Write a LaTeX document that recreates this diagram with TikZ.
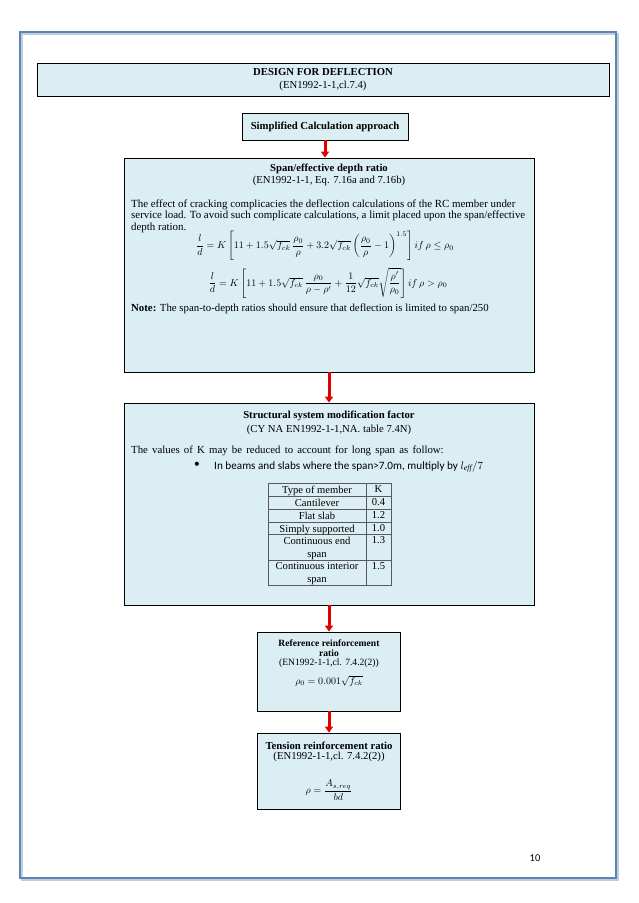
\documentclass[tikz,border=0pt]{standalone}
\usepackage{amsmath,amssymb}
\usepackage{fontspec}
\setmainfont{Liberation Serif}
\newfontfamily\calibri{Carlito}
\usepackage{tikz}
\usetikzlibrary{arrows.meta,positioning,calc}
\definecolor{boxblue}{HTML}{DAEEF3}
\definecolor{arrowred}{HTML}{E00000}
\definecolor{pageblue}{HTML}{5B84B8}
\definecolor{tablegray}{HTML}{5A5A5A}
\tikzset{
  flowbox/.style={draw=black, line width=0.8pt, fill=boxblue, inner sep=0pt},
  flowarrow/.style={-{Triangle[length=6pt,width=8pt]}, draw=arrowred, line width=3pt},
  headtext/.style={font=\fontsize{10.7}{11.5}\selectfont, inner sep=0pt, align=center},
  smallhead/.style={font=\fontsize{9.6}{9.6}\selectfont, inner sep=0pt, align=center},
  bodytext/.style={font=\fontsize{10.8}{11}\selectfont, inner sep=0pt, align=left},
  mathtext/.style={font=\fontsize{9.8}{11}\selectfont, inner sep=0pt},
  celltext/.style={font=\fontsize{10.6}{13}\selectfont, inner sep=0pt, align=center, anchor=north},
}

\begin{document}
\begin{tikzpicture}[x=1pt, y=-1pt]
\useasboundingbox (0,0) rectangle (638,903);
% page frame
\draw[pageblue!60!gray!40, line width=1.5pt] (22,34) rectangle (618,880);
\draw[pageblue, line width=2pt] (20,32) rectangle (616,878);

% boxes
\node[flowbox, minimum width=572pt, minimum height=33pt, headtext] (title) at (323,79.5)
  {\textbf{DESIGN FOR DEFLECTION}\\[1pt](EN1992-1-1,cl.7.4)};
\node[flowbox, minimum width=166pt, minimum height=27pt, headtext] (simp) at (325,126.5)
  {\textbf{Simplified Calculation approach}};
\node[flowbox, minimum width=410pt, minimum height=214pt] (span) at (329,265) {};
\node[flowbox, minimum width=410pt, minimum height=202pt] (struct) at (329,504) {};
\node[flowbox, minimum width=143pt, minimum height=79pt] (refr) at (329,671.5) {};
\node[flowbox, minimum width=143pt, minimum height=76pt] (tens) at (329,771) {};

% span/effective depth ratio
\node[headtext, anchor=base] (spanhead) at (329,171) {\textbf{Span/effective depth ratio}};
\node[headtext, anchor=base] (spansub) at (329,183) {(EN1992-1-1, Eq. 7.16a and 7.16b)};
\node[bodytext, anchor=north west, font=\fontsize{10.9}{11.4}\selectfont] (spantext) at (131,199.6) {The effect of cracking complicacies the deflection calculations of the RC member under\\
service load. To avoid such complicate calculations, a limit placed upon the span/effective\\
depth ration.};
\node[mathtext] (eqone) at (325,246)
  {$\dfrac{l}{d} = K\left[11 + 1.5\sqrt{f_{ck}}\,\dfrac{\rho_0}{\rho} + 3.2\sqrt{f_{ck}}\left(\dfrac{\rho_0}{\rho} - 1\right)^{1.5}\right] if\,\rho \le \rho_0$};
\node[mathtext] (eqtwo) at (328,283)
  {$\dfrac{l}{d} = K\left[11 + 1.5\sqrt{f_{ck}}\,\dfrac{\rho_0}{\rho - \rho'} + \dfrac{1}{12}\sqrt{f_{ck}}\sqrt{\dfrac{\rho'}{\rho_0}}\right] if\,\rho > \rho_0$};
\node[bodytext, anchor=base west] (note) at (131,311) {\textbf{Note:} The span-to-depth ratios should ensure that deflection is limited to span/250};

% structural system modification factor
\node[headtext, anchor=base] (structhead) at (329,418) {\textbf{Structural system modification factor}};
\node[headtext, anchor=base] (structsub) at (329,432) {(CY NA EN1992-1-1,NA. table 7.4N)};
\node[bodytext, anchor=base west] (structtext) at (131,453) {\spaceskip=4.2pt plus 1pt\relax The values of K may be reduced to account for long span as follow:};
\node[inner sep=0pt, font=\calibri\fontsize{11.5}{12}\selectfont] (bullet) at (197,465) {•};
\node[bodytext, anchor=base west, font=\calibri\fontsize{11.2}{12}\selectfont] (bullettext) at (214,469)
  {In beams and slabs where the span>7.0m, multiply by $l_{\mathit{eff}}/7$};

% table of K values
\draw[tablegray, line width=0.6pt] (268,483) rectangle (391,585);
\draw[tablegray, line width=0.6pt] (366,483) -- (366,585);
\foreach \yy in {496,509,522,534,560}
  \draw[tablegray, line width=0.6pt] (268,\yy) -- (391,\yy);
\foreach \ytop/\member/\kval [count=\i] in {
    483/{Type of member}/K,
    496/Cantilever/0.4,
    509/Flat slab/1.2,
    522/Simply supported/1.0,
    534/{Continuous end\\span}/1.3,
    560/{Continuous interior\\span}/1.5} {
  \node[celltext] (member\i) at (317,\ytop+2.6) {\member};
  \node[celltext] (kval\i) at (378.5,\ytop+2.6) {\kval};
}

% reference reinforcement ratio
\node[smallhead, anchor=north] (refrhead) at (329,639.5) {\textbf{Reference reinforcement}\\\textbf{ratio}\\(EN1992-1-1,cl. 7.4.2(2))};
\node[mathtext] (refreq) at (329,681) {$\rho_0 = 0.001\sqrt{f_{ck}}$};

% tension reinforcement ratio
\node[headtext, anchor=north, font=\fontsize{10.7}{10.5}\selectfont] (tenshead) at (329,741.3) {\textbf{Tension reinforcement ratio}\\(EN1992-1-1,cl. 7.4.2(2))};
\node[mathtext] (tenseq) at (329,790) {$\rho = \dfrac{A_{s,req}}{bd}$};

% page number
\node[inner sep=0pt, font=\calibri\fontsize{10.5}{12}\selectfont] (pagenum) at (535,858) {10};

% arrows
\draw[flowarrow] (simp.south) -- (simp.south |- span.north);
\draw[flowarrow] (span.south) -- (struct.north);
\draw[flowarrow] (struct.south) -- (refr.north);
\draw[flowarrow] (refr.south) -- (tens.north);
\end{tikzpicture}
\end{document}
